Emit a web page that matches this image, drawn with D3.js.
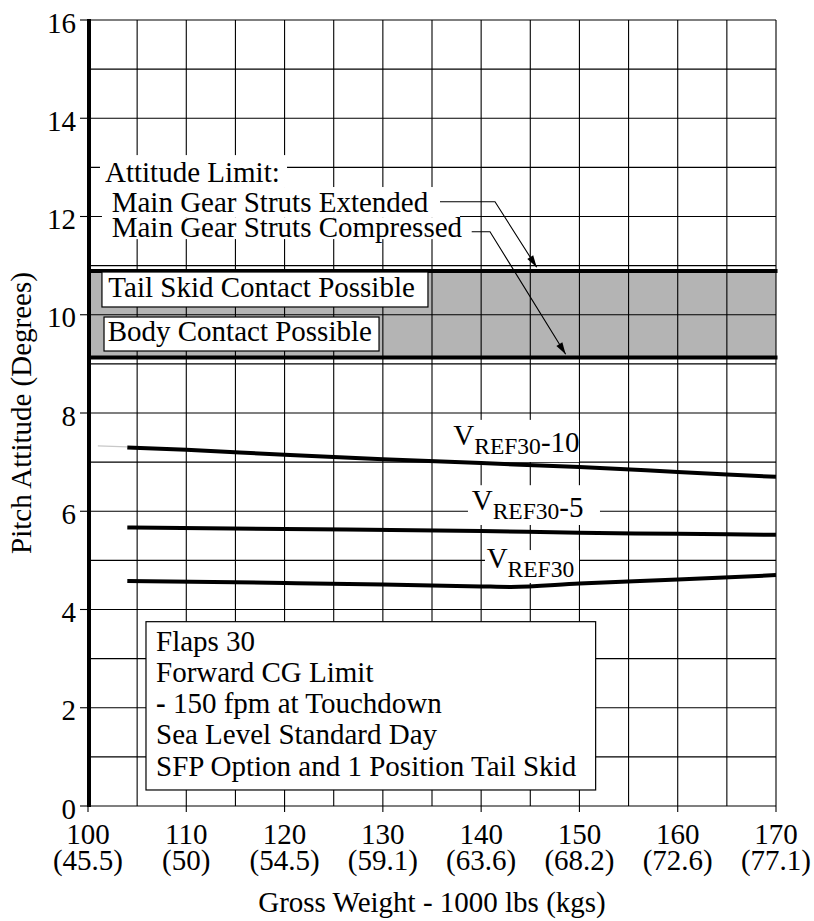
<!DOCTYPE html>
<html><head><meta charset="utf-8">
<script src="https://cdn.jsdelivr.net/npm/d3@7"></script>
<style>
body{margin:0;background:#fff}
svg{display:block}
text{font-family:"Liberation Serif","Times New Roman",Times,serif;fill:#000}
</style>
</head><body>
<svg id="c" width="814" height="921"></svg>
<script>
// ---- data ----
const xDomain = [100, 170];
const yDomain = [0, 16];
const xTickValues = [100, 110, 120, 130, 140, 150, 160, 170];
const xTickKgs = ["(45.5)", "(50)", "(54.5)", "(59.1)", "(63.6)", "(68.2)", "(72.6)", "(77.1)"];
const yTickValues = [0, 2, 4, 6, 8, 10, 12, 14, 16];
const xGridStep = 5;
const yGridStep = 1;

const limitExtended = 10.89;   // main gear struts extended
const limitCompressed = 9.13;  // main gear struts compressed

const vref10Weight = [104, 110, 120, 130, 140, 150, 160, 170];
const vref10Pitch  = [7.30, 7.25, 7.15, 7.06, 6.98, 6.90, 6.80, 6.70];
const vref10LeadWeight = [101, 104];
const vref10LeadPitch  = [7.33, 7.31];
const vref5Weight = [104, 120, 140, 150, 160, 170];
const vref5Pitch  = [5.67, 5.64, 5.60, 5.56, 5.54, 5.52];
const vrefWeight = [104, 120, 130, 140, 143, 150, 160, 170];
const vrefPitch  = [4.58, 4.54, 4.51, 4.47, 4.46, 4.53, 4.61, 4.70];

const flapsLines = ["Flaps 30", "Forward CG Limit", "- 150 fpm at Touchdown", "Sea Level Standard Day", "SFP Option and 1 Position Tail Skid"];
const limitLines = ["Attitude Limit:", "Main Gear Struts Extended", "Main Gear Struts Compressed"];

// ---- layout ----
const W = 814, H = 921;
const FS = 29, SUB = 23.5;
const x = d3.scaleLinear(xDomain, [88, 776]);
const y = d3.scaleLinear(yDomain, [806, 20]);
const svg = d3.select("#c");
svg.append("rect").attr("width", W).attr("height", H).attr("fill", "#fff");

const toPts = (xs, ys) => xs.map((v, i) => [v, ys[i]]);

// shaded band
svg.append("rect")
  .attr("x", x(xDomain[0])).attr("width", x(xDomain[1]) - x(xDomain[0]))
  .attr("y", y(limitExtended)).attr("height", y(limitCompressed) - y(limitExtended))
  .attr("fill", "#b4b4b4");

// grid
const grid = svg.append("g").attr("stroke", "#000").attr("stroke-width", 1.1);
d3.range(xDomain[0], xDomain[1] + 0.01, xGridStep).forEach(v => {
  grid.append("line").attr("x1", x(v)).attr("x2", x(v)).attr("y1", y(yDomain[0])).attr("y2", y(yDomain[1]));
});
d3.range(yDomain[0], yDomain[1] + 0.01, yGridStep).forEach(v => {
  grid.append("line").attr("x1", x(xDomain[0])).attr("x2", x(xDomain[1])).attr("y1", y(v)).attr("y2", y(v));
});

// thick limit lines
[limitExtended, limitCompressed].forEach(v => {
  svg.append("line").attr("x1", x(xDomain[0])).attr("x2", x(xDomain[1]) + 1.5)
    .attr("y1", y(v)).attr("y2", y(v)).attr("stroke", "#000").attr("stroke-width", 4);
});

// white masks behind annotations (data units: [x0, x1, yTop, yBottom])
const masks = [
  [101.22, 120.25, 13.25, 12.60],
  [101.42, 137.85, 12.60, 11.985],
  [101.42, 138.66, 11.985, 11.54],
  [136.32, 149.96, 7.86, 7.003],
  [138.66, 152.09, 6.53, 5.72],
  [140.39, 149.96, 5.21, 4.54]
];
masks.forEach(m => {
  svg.append("rect").attr("x", x(m[0])).attr("width", x(m[1]) - x(m[0]))
    .attr("y", y(m[2])).attr("height", y(m[3]) - y(m[2])).attr("fill", "#fff");
});

// curves
const line = d3.line().x(d => x(d[0])).y(d => y(d[1])).curve(d3.curveMonotoneX);
svg.append("path").attr("d", line(toPts(vref10LeadWeight, vref10LeadPitch)))
  .attr("fill", "none").attr("stroke", "#c8c8c8").attr("stroke-width", 1.2);
[[vref10Weight, vref10Pitch], [vref5Weight, vref5Pitch], [vrefWeight, vrefPitch]].forEach(s => {
  svg.append("path").attr("d", line(toPts(s[0], s[1])))
    .attr("fill", "none").attr("stroke", "#000").attr("stroke-width", 4);
});

// curve labels
const curveLabels = [
  {wx: 137.17, py: 7.349, tail: "-10"},
  {wx: 139.04, py: 6.026, tail: "-5"},
  {wx: 140.56, py: 4.839, tail: ""}
];
curveLabels.forEach(l => {
  const t = svg.append("text").attr("x", x(l.wx)).attr("y", y(l.py)).attr("font-size", FS).text("V");
  t.append("tspan").attr("font-size", SUB).attr("dy", 9).text("REF30");
  if (l.tail) t.append("tspan").attr("font-size", FS).attr("dy", -2.3).text(l.tail);
});

// boxed region labels
function boxed(bx0, bx1, by0, by1, tx, ty, txt) {
  svg.append("rect").attr("x", x(bx0)).attr("width", x(bx1) - x(bx0))
    .attr("y", y(by0)).attr("height", y(by1) - y(by0))
    .attr("fill", "#fff").attr("stroke", "#000").attr("stroke-width", 1.2);
  svg.append("text").attr("x", x(tx)).attr("y", y(ty)).attr("font-size", FS).text(txt);
}
boxed(101.42, 134.59, 10.870, 10.158, 102.07, 10.355, "Tail Skid Contact Possible");
boxed(101.63, 129.61, 9.954, 9.262, 102.0, 9.466, "Body Contact Possible");

// flaps conditions box (one text block, one tspan per line)
svg.append("rect").attr("x", x(105.90)).attr("width", x(151.65) - x(105.90))
  .attr("y", y(3.752)).attr("height", y(0.326) - y(3.752))
  .attr("fill", "#fff").attr("stroke", "#000").attr("stroke-width", 1.2);
const flapsBase = [3.161, 2.530, 1.887, 1.262, 0.617];
const flapsText = svg.append("text").attr("font-size", FS);
flapsLines.forEach((s, i) => {
  if (s.startsWith("- ")) {
    flapsText.append("tspan").attr("x", x(106.92)).attr("y", y(flapsBase[i])).attr("font-weight", "bold").text("-");
    flapsText.append("tspan").text(s.slice(1));
  } else {
    flapsText.append("tspan").attr("x", x(106.92)).attr("y", y(flapsBase[i])).text(s);
  }
});

// attitude limit texts (one block)
const limitPos = [[101.73, 12.708], [102.41, 12.098], [102.41, 11.583]];
const limitText = svg.append("text").attr("font-size", FS);
limitLines.forEach((s, i) => {
  limitText.append("tspan").attr("x", x(limitPos[i][0])).attr("y", y(limitPos[i][1])).text(s);
});

// leader lines with arrows
const leaders = [
  [[135.81, 12.301], [141.41, 12.301], [145.65, 10.966]],
  [[139.04, 11.691], [140.90, 11.691], [148.60, 9.195]]
];
leaders.forEach(pts => {
  const px = pts.map(p => [x(p[0]), y(p[1])]);
  svg.append("path").attr("d", d3.line()(px)).attr("fill", "none").attr("stroke", "#000").attr("stroke-width", 1.1);
  const T = px[px.length - 1], P = px[px.length - 2];
  const dx = T[0] - P[0], dy = T[1] - P[1], len = Math.hypot(dx, dy);
  const ux = dx / len, uy = dy / len, L = 12, w = 7;
  const bx = T[0] - ux * L, by = T[1] - uy * L;
  svg.append("path").attr("d", `M${T[0]},${T[1]}L${bx - uy * w / 2},${by + ux * w / 2}L${bx + uy * w / 2},${by - ux * w / 2}Z`)
    .attr("fill", "#000");
});

// axes
svg.append("line").attr("x1", x(xDomain[0]) + 1).attr("x2", x(xDomain[0]) + 1)
  .attr("y1", y(yDomain[1]) - 1).attr("y2", y(yDomain[0]) + 1).attr("stroke", "#000").attr("stroke-width", 4);
yTickValues.forEach(v => {
  svg.append("line").attr("x1", x(xDomain[0]) - 8).attr("x2", x(xDomain[0])).attr("y1", y(v)).attr("y2", y(v))
    .attr("stroke", "#000").attr("stroke-width", 1.1);
  svg.append("text").attr("x", x(xDomain[0]) - 12).attr("y", y(v) + 12.5).attr("text-anchor", "end")
    .attr("font-size", FS).text(v);
});
xTickValues.forEach((v, i) => {
  svg.append("line").attr("x1", x(v)).attr("x2", x(v)).attr("y1", y(0)).attr("y2", y(0) + 6)
    .attr("stroke", "#000").attr("stroke-width", 1.1);
  const t = svg.append("text").attr("text-anchor", "middle").attr("font-size", FS);
  t.append("tspan").attr("x", x(v)).attr("y", y(0) + 38).text(v);
  t.append("tspan").attr("x", x(v)).attr("y", y(0) + 64).text(xTickKgs[i]);
});
svg.append("text").attr("x", (x(xDomain[0]) + x(xDomain[1])) / 2).attr("y", 912)
  .attr("text-anchor", "middle").attr("font-size", FS).text("Gross Weight - 1000 lbs (kgs)");
svg.append("text").attr("transform", `translate(31,${(y(yDomain[0]) + y(yDomain[1])) / 2}) rotate(-90)`)
  .attr("text-anchor", "middle").attr("font-size", FS).text("Pitch Attitude (Degrees)");
</script>
</body></html>
